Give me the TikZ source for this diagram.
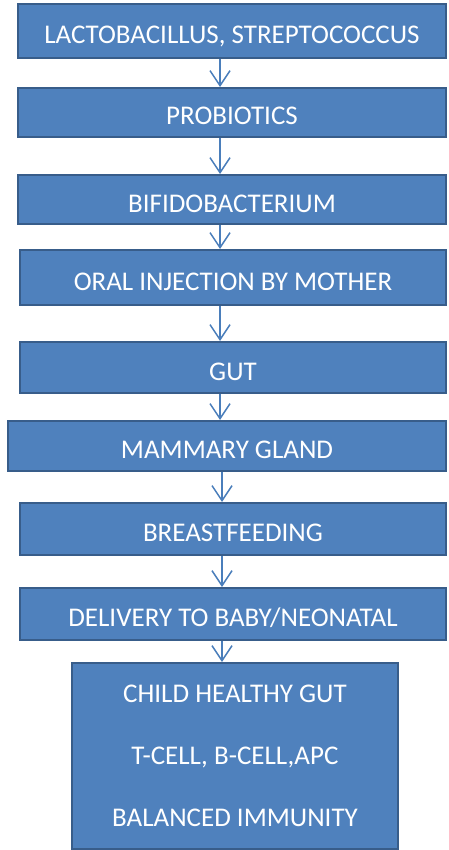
\documentclass[tikz,border=0pt]{standalone}
\usepackage{fontspec}
\setmainfont{Carlito}
\usetikzlibrary{arrows.meta}
\definecolor{boxblue}{HTML}{4F81BD}
\definecolor{boxedge}{HTML}{385D8A}
\definecolor{arrowblue}{HTML}{4A7EBB}

\begin{document}
\begin{tikzpicture}[x=1pt, y=-1pt,
    boxbase/.style={draw=boxedge, line width=2pt, fill=boxblue, text=white, rectangle, inner sep=0pt},
    box/.style={boxbase, font=\fontsize{27}{32}\selectfont, text height=25pt, text depth=0pt},
    flow/.style={draw=arrowblue, line width=1.5pt, -{Straight Barb[length=15pt,width=20pt]}}]
    \useasboundingbox (0,0) rectangle (448,850);

    \node (lacto) [box, minimum width=428pt, minimum height=54pt] at (232,31) {LACTOBACILLUS, STREPTOCOCCUS};
    \node (probio) [box, minimum width=428pt, minimum height=49pt] at (232,112.5) {PROBIOTICS};
    \node (bifido) [box, minimum width=428pt, minimum height=49pt] at (232,199.5) {BIFIDOBACTERIUM};
    \node (oral) [box, minimum width=426pt, minimum height=55pt] at (233,277.5) {ORAL INJECTION BY MOTHER};
    \node (gut) [box, minimum width=426pt, minimum height=51pt] at (233,367.5) {GUT};
    \node (mammary) [box, minimum width=438pt, minimum height=50pt] at (227,446) {MAMMARY GLAND};
    \node (breast) [box, minimum width=426pt, minimum height=52pt] at (233,529) {BREASTFEEDING};
    \node (delivery) [box, minimum width=426pt, minimum height=52pt] at (233,614) {DELIVERY TO BABY/NEONATAL};
    \node (child) [boxbase, minimum width=326pt, minimum height=186pt, align=center,
        font=\fontsize{27}{62}\selectfont] at (235,756)
        {CHILD HEALTHY GUT\\T-CELL, B-CELL,APC\\BALANCED IMMUNITY};

    \coordinate (upx) at (220,0);
    \coordinate (lowx) at (222,0);

    \draw[flow] (lacto.south -| upx) -- (probio.north -| upx);
    \draw[flow] (probio.south -| upx) -- (bifido.north -| upx);
    \draw[flow] (bifido.south -| upx) -- (oral.north -| upx);
    \draw[flow] (oral.south -| upx) -- (gut.north -| upx);
    \draw[flow] (gut.south -| upx) -- (mammary.north -| upx);
    \draw[flow] (mammary.south -| lowx) -- (breast.north -| lowx);
    \draw[flow] (breast.south -| lowx) -- (delivery.north -| lowx);
    \draw[flow] (delivery.south -| lowx) -- (child.north -| lowx);
\end{tikzpicture}
\end{document}
